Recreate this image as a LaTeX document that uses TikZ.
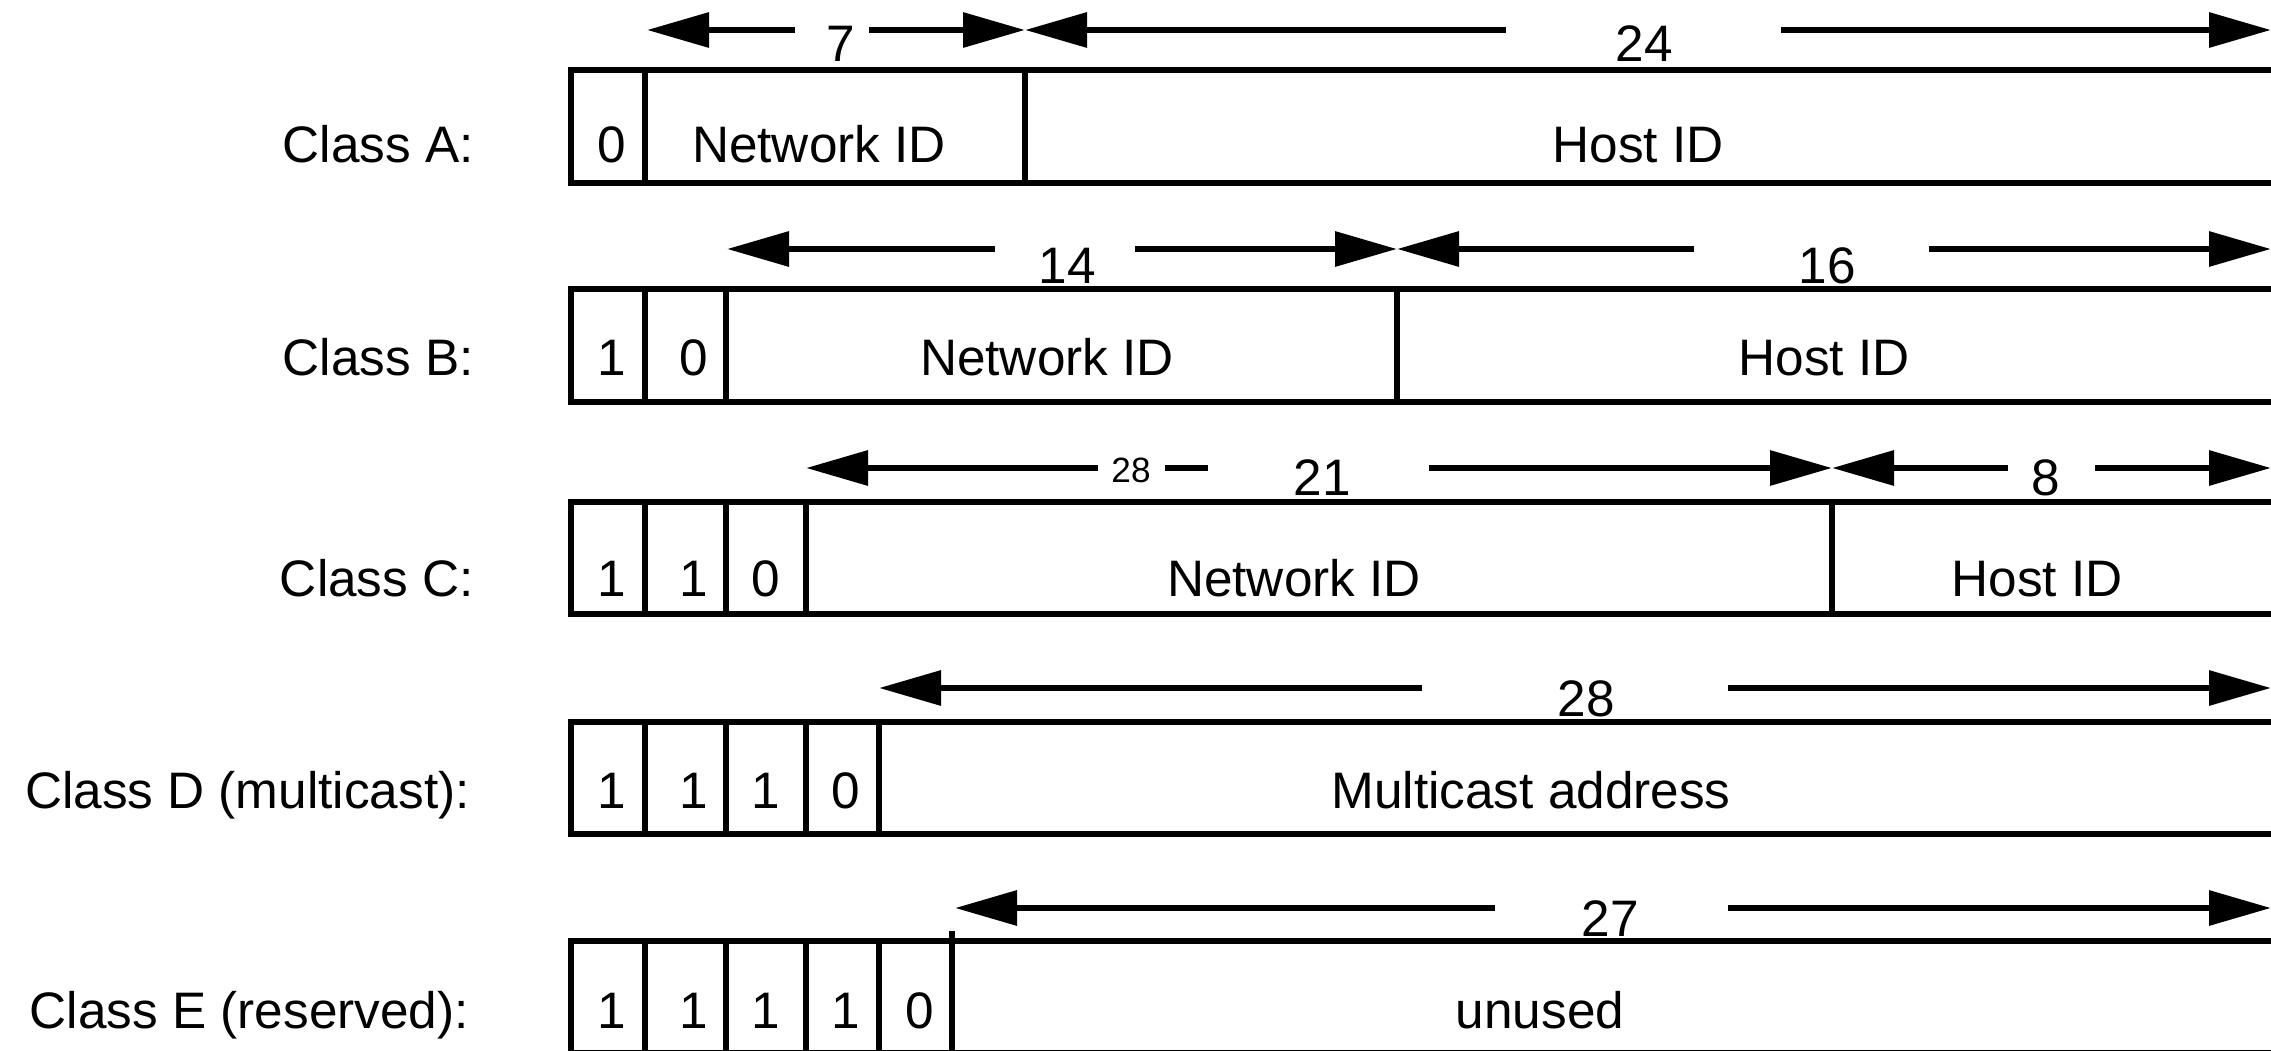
\documentclass[tikz,border=0pt]{standalone}
\usepackage{xcolor}
\usepackage{fontspec}
\setmainfont{Liberation Sans}
\usepackage{tikz}
\usetikzlibrary{arrows.meta}

\begin{document}
\begin{tikzpicture}[>={Triangle[length=6.2mm, width=3.4mm]},
			line width=1.8pt,
			font=\fontsize{14.6}{17}\selectfont,
			class/.style={anchor=base east, inner sep=0pt},
			field/.style={anchor=base},
			count/.style={anchor=base},
			small/.style={anchor=base, font=\fontsize{10}{12}\selectfont},
			wall/.style={line width=1.6pt}]

			\useasboundingbox (0,0) rectangle (22.71,-10.51);
			\clip (0,0) rectangle (22.71,-10.51);

			% Class A
			\node[class] (clsA) at (4.77,-1.63) {Class A:};
			\draw (5.71,-0.70) rectangle (22.9,-1.83);
			\draw[wall] (6.45,-0.70) -- (6.45,-1.83);
			\draw[wall] (10.25,-0.70) -- (10.25,-1.83);
			\node[field] (a0) at (6.12,-1.63) {0};
			\node[field] (anet) at (8.19,-1.63) {Network ID};
			\node[field] (ahost) at (16.38,-1.63) {Host ID};
			\coordinate (at0) at (6.47,-0.30);
			\coordinate (at1) at (10.25,-0.30);
			\coordinate (at2) at (22.71,-0.30);
			\coordinate (ag0) at (7.95,-0.30);
			\coordinate (ag1) at (8.69,-0.30);
			\coordinate (ag2) at (15.06,-0.30);
			\coordinate (ag3) at (17.81,-0.30);
			\node[count] (a7) at (8.41,-0.62) {7};
			\node[count] (a24) at (16.44,-0.62) {24};
			\draw[->] (ag0) -- (at0);
			\draw[->] (ag1) -- (at1);
			\draw[->] (ag2) -- (at1);
			\draw[->] (ag3) -- (at2);

			% Class B
			\node[class] (clsB) at (4.77,-3.76) {Class B:};
			\draw (5.71,-2.89) rectangle (22.9,-4.02);
			\draw[wall] (6.45,-2.89) -- (6.45,-4.02);
			\draw[wall] (7.26,-2.89) -- (7.26,-4.02);
			\draw[wall] (13.97,-2.89) -- (13.97,-4.02);
			\node[field] (b0) at (6.12,-3.76) {1};
			\node[field] (b1) at (6.94,-3.76) {0};
			\node[field] (bnet) at (10.47,-3.76) {Network ID};
			\node[field] (bhost) at (18.24,-3.76) {Host ID};
			\coordinate (bt0) at (7.27,-2.49);
			\coordinate (bt1) at (13.97,-2.49);
			\coordinate (bt2) at (22.71,-2.49);
			\coordinate (bg0) at (9.95,-2.49);
			\coordinate (bg1) at (11.35,-2.49);
			\coordinate (bg2) at (16.94,-2.49);
			\coordinate (bg3) at (19.29,-2.49);
			\node[count] (b14) at (10.67,-2.83) {14};
			\node[count] (b16) at (18.27,-2.83) {16};
			\draw[->] (bg0) -- (bt0);
			\draw[->] (bg1) -- (bt1);
			\draw[->] (bg2) -- (bt1);
			\draw[->] (bg3) -- (bt2);

			% Class C
			\node[class] (clsC) at (4.77,-5.96) {Class C:};
			\draw (5.71,-5.02) rectangle (22.9,-6.14);
			\draw[wall] (6.45,-5.02) -- (6.45,-6.14);
			\draw[wall] (7.26,-5.02) -- (7.26,-6.14);
			\draw[wall] (8.06,-5.02) -- (8.06,-6.14);
			\draw[wall] (18.32,-5.02) -- (18.32,-6.14);
			\node[field] (c0) at (6.12,-5.96) {1};
			\node[field] (c1) at (6.94,-5.96) {1};
			\node[field] (c2) at (7.66,-5.96) {0};
			\node[field] (cnet) at (12.94,-5.96) {Network ID};
			\node[field] (chost) at (20.37,-5.96) {Host ID};
			\coordinate (ct0) at (8.06,-4.68);
			\coordinate (ct1) at (18.32,-4.68);
			\coordinate (ct2) at (22.71,-4.68);
			\coordinate (cg0) at (10.98,-4.68);
			\coordinate (cd0) at (11.65,-4.68);
			\coordinate (cd1) at (12.08,-4.68);
			\coordinate (cg1) at (14.29,-4.68);
			\coordinate (cg2) at (20.08,-4.68);
			\coordinate (cg3) at (20.95,-4.68);
			\node[small] (c28) at (11.31,-4.82) {28};
			\node[count] (c21) at (13.22,-4.95) {21};
			\node[count] (c8) at (20.46,-4.95) {8};
			\draw[->] (cg0) -- (ct0);
			\draw (cd0) -- (cd1);
			\draw[->] (cg1) -- (ct1);
			\draw[->] (cg2) -- (ct1);
			\draw[->] (cg3) -- (ct2);

			% Class D
			\node[class] (clsD) at (4.73,-8.08) {Class D (multicast):};
			\draw (5.71,-7.22) rectangle (22.9,-8.34);
			\draw[wall] (6.45,-7.22) -- (6.45,-8.34);
			\draw[wall] (7.26,-7.22) -- (7.26,-8.34);
			\draw[wall] (8.06,-7.22) -- (8.06,-8.34);
			\draw[wall] (8.79,-7.22) -- (8.79,-8.34);
			\node[field] (d0) at (6.12,-8.08) {1};
			\node[field] (d1) at (6.94,-8.08) {1};
			\node[field] (d2) at (7.66,-8.08) {1};
			\node[field] (d3) at (8.46,-8.08) {0};
			\node[field] (dmc) at (15.31,-8.08) {Multicast address};
			\coordinate (dt0) at (8.79,-6.88);
			\coordinate (dt1) at (22.71,-6.88);
			\coordinate (dg0) at (14.22,-6.88);
			\coordinate (dg1) at (17.28,-6.88);
			\node[count] (d28) at (15.86,-7.16) {28};
			\draw[->] (dg0) -- (dt0);
			\draw[->] (dg1) -- (dt1);

			% Class E
			\node[class] (clsE) at (4.72,-10.28) {Class E (reserved):};
			\draw (5.71,-9.41) rectangle (22.9,-10.53);
			\draw[wall] (6.45,-9.41) -- (6.45,-10.53);
			\draw[wall] (7.26,-9.41) -- (7.26,-10.53);
			\draw[wall] (8.06,-9.41) -- (8.06,-10.53);
			\draw[wall] (8.79,-9.41) -- (8.79,-10.53);
			\draw[wall] (9.52,-9.31) -- (9.52,-10.53);
			\node[field] (e0) at (6.12,-10.28) {1};
			\node[field] (e1) at (6.94,-10.28) {1};
			\node[field] (e2) at (7.66,-10.28) {1};
			\node[field] (e3) at (8.46,-10.28) {1};
			\node[field] (e4) at (9.20,-10.28) {0};
			\node[field] (eun) at (15.40,-10.28) {unused};
			\coordinate (et0) at (9.55,-9.08);
			\coordinate (et1) at (22.71,-9.08);
			\coordinate (eg0) at (14.95,-9.08);
			\coordinate (eg1) at (17.28,-9.08);
			\node[count] (e27) at (16.10,-9.36) {27};
			\draw[->] (eg0) -- (et0);
			\draw[->] (eg1) -- (et1);
		\end{tikzpicture}
\end{document}
